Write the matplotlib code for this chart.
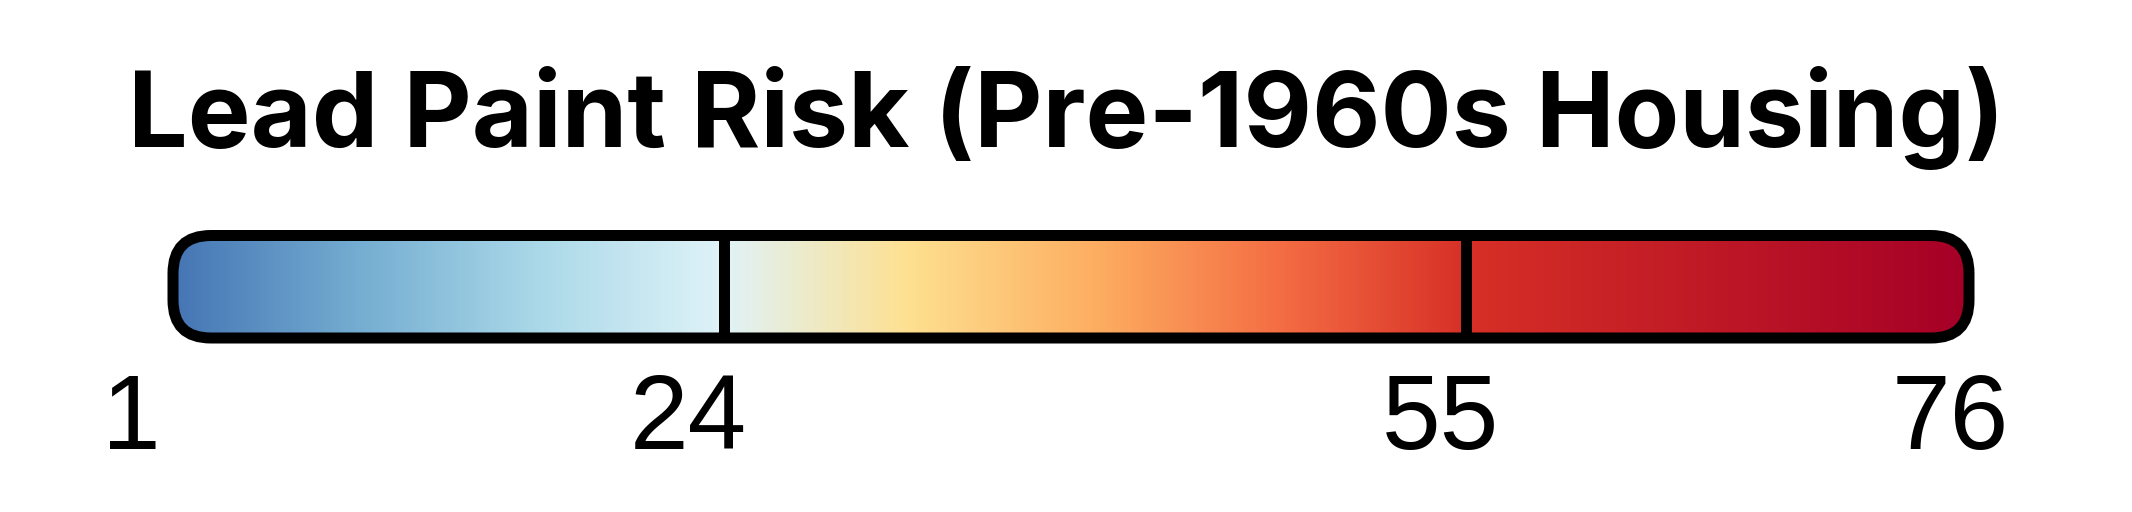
import numpy as np
import matplotlib
matplotlib.use("Agg")
import matplotlib.pyplot as plt
from matplotlib.colors import LinearSegmentedColormap
from matplotlib.patches import FancyBboxPatch
import matplotlib.transforms as mtransforms

# datos de la leyenda
title = "Lead Paint Risk (Pre-1960s Housing)"
breaks = [1, 24, 55, 76]
tick_labels = ["1", "24", "55", "76"]
# colores de cada tramo (entre cortes)
seg_colors = [
    ["#4575b4", "#74add1", "#abd9e9", "#e0f3f8"],
    ["#e0f3f8", "#fee090", "#fdae61", "#f46d43", "#d73027"],
    ["#d73027", "#a50026"],
]

W, H, DPI = 2132, 512, 100
fig = plt.figure(figsize=(W / DPI, H / DPI), dpi=DPI)

# ejes en unidades del valor (barra)
x0, x1 = 173, 1969
ytop, ybot = 235.5, 338
ax = fig.add_axes([x0 / W, (H - ybot) / H, (x1 - x0) / W, (ybot - ytop) / H])
vmin, vmax = breaks[0], breaks[-1]
ax.set_xlim(vmin, vmax)
ax.set_ylim(0, 1)
ax.axis("off")

# colormap construido a partir de los cortes
stops = []
for k, cols in enumerate(seg_colors):
    pos = np.linspace(breaks[k], breaks[k + 1], len(cols))
    for p, c in zip(pos, cols):
        stops.append(((p - vmin) / (vmax - vmin), c))
cmap = LinearSegmentedColormap.from_list("lead", stops, N=1024)

grad = np.linspace(vmin, vmax, 1200).reshape(1, -1)
img = ax.imshow(grad, cmap=cmap, vmin=vmin, vmax=vmax, aspect="auto",
                extent=[vmin, vmax, 0, 1], interpolation="bilinear", zorder=1)

# caja redondeada
px_x = (x1 - x0) / (vmax - vmin)
px_y = ybot - ytop
R = 38
box = FancyBboxPatch((vmin, 0), vmax - vmin, 1,
                     boxstyle="round,pad=0,rounding_size=%f" % (R / px_x),
                     mutation_aspect=px_x / px_y,
                     facecolor="none", edgecolor="black",
                     linewidth=11 * 72 / DPI, zorder=3, clip_on=False)
ax.add_patch(box)
img.set_clip_path(box)

# divisiones
for b in breaks[1:-1]:
    ax.plot([b, b], [0, 1], color="black", lw=11 * 72 / DPI, zorder=2,
            solid_capstyle="butt")

# titulo
fig.text(0.5, (H - 147) / H, title, ha="center", va="baseline",
         fontsize=76, fontweight="bold", family=["Inter", "DejaVu Sans"])

# eje de etiquetas (misma escala, algo desplazado)
lx0, lx1 = 131, 1950
lax = fig.add_axes([lx0 / W, 0.0, (lx1 - lx0) / W, 0.2])
lax.set_xlim(vmin, vmax)
lax.axis("off")
trans = mtransforms.blended_transform_factory(lax.transData, fig.transFigure)
for b, lab in zip(breaks, tick_labels):
    lax.text(b, (H - 449) / H, lab, ha="center", va="baseline",
             fontsize=76, family=["Liberation Sans", "DejaVu Sans"],
             transform=trans)

fig.savefig("out.png", dpi=DPI)
